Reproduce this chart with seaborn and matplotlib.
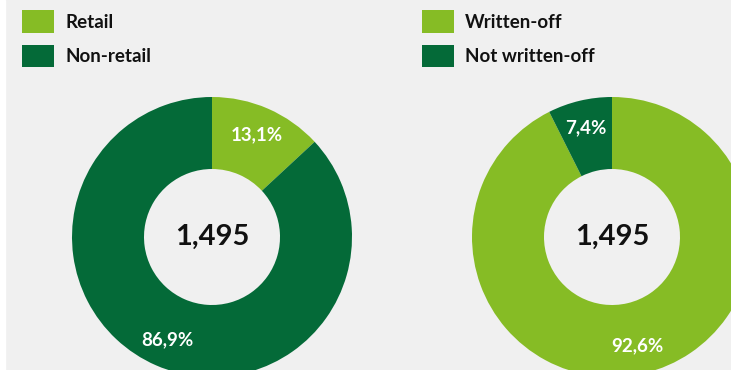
import matplotlib
matplotlib.use("Agg")
import matplotlib.pyplot as plt
from matplotlib.patches import Patch
import seaborn as sns

# data
left_labels = ["Retail", "Non-retail"]
left_values = [13.1, 86.9]
right_labels = ["Written-off", "Not written-off"]
right_values = [92.6, 7.4]
total_left = "1,495"
total_right = "1,495"

LIGHT = "#86bc25"
DARK = "#046a38"
BG = "#f0f0f0"

sns.set_theme(style="white")
plt.rcParams["font.family"] = ["Lato", "DejaVu Sans"]

W, H = 731, 370
fig = plt.figure(figsize=(W / 100, H / 100), dpi=100, facecolor="white")
ax = fig.add_axes([0, 0, 1, 1])
ax.set_facecolor(BG)


def pct_fmt(p):
    return f"{p:.1f}%".replace(".", ",")


def donut(cx, cy, values, colors, total):
    ax.pie(
        values, colors=colors, center=(cx, H - cy), radius=140,
        startangle=90, counterclock=False,
        wedgeprops=dict(width=72, linewidth=0),
        autopct=pct_fmt, pctdistance=0.8,
        textprops=dict(color="white", fontsize=13.5, fontweight="bold"),
    )
    ax.text(cx, H - cy, total, ha="center", va="center",
            fontsize=21, fontweight="bold", color="#111111")


donut(212, 237, left_values, [LIGHT, DARK], total_left)
donut(612, 237, right_values, [LIGHT, DARK], total_right)

ax.axvspan(0, 5, color="white", zorder=5)
ax.set_xlim(0, W)
ax.set_ylim(0, H)
ax.set_aspect("auto")
ax.axis("off")
ax.add_patch(plt.Rectangle((5, 0), W, H, color=BG, zorder=-10))


def legend(x, labels):
    handles = [Patch(facecolor=c, edgecolor="none") for c in [LIGHT, DARK]]
    leg = fig.legend(handles, labels, loc="upper left",
                     bbox_to_anchor=(x / W, 1 - 10 / H),
                     frameon=False, borderpad=0, borderaxespad=0,
                     handlelength=1.7, handleheight=1.5, labelspacing=0.62,
                     handletextpad=0.6, prop=dict(weight="bold", size=13.5))
    for t in leg.get_texts():
        t.set_color("#111111")
    return leg


legend(22, left_labels)
legend(422, right_labels)

fig.savefig("out.png", dpi=100, facecolor="white")
